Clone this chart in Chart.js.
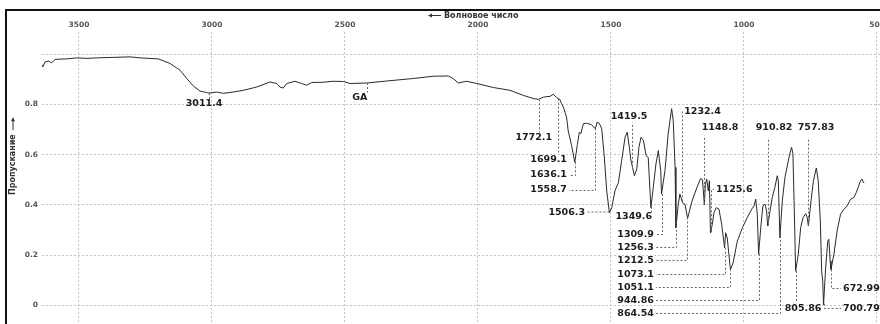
<!DOCTYPE html>
<html lang="ru">
<head>
<meta charset="utf-8">
<title>ИК-спектр</title>
<script src="https://cdn.jsdelivr.net/npm/chart.js@4.4.1/dist/chart.umd.min.js"></script>
<style>
  html, body { margin: 0; padding: 0; background: #fff; overflow: hidden; }
  #box { position: absolute; left: 0; top: 0; width: 900px; height: 334px; }
  #frame { position: absolute; left: 5px; top: 9px; width: 900px; height: 330px;
           border-top: 2px solid #111; border-left: 2px solid #111; pointer-events: none; }
</style>
</head>
<body>
<div id="box"><canvas id="spectrum"></canvas></div>
<div id="frame"></div>
<script>
// Spectrum: wavenumber (cm-1) and transmittance
const waveNumbers = [
  3643, 3636, 3628, 3615, 3603, 3590, 3571, 3546, 3509, 3470, 3433, 3371, 3308, 3271, 3202,
  3158, 3120, 3095, 3070, 3045, 3020, 3011, 2982, 2957, 2920, 2882, 2832, 2782, 2757, 2744,
  2732, 2719, 2688, 2663, 2644, 2625, 2582, 2544, 2506, 2481, 2418, 2343, 2243, 2168, 2112,
  2093, 2074, 2043, 1992, 1942, 1880, 1830, 1792, 1772, 1754, 1729, 1717, 1704, 1699, 1692,
  1686, 1679, 1673, 1667, 1661, 1648, 1636, 1627, 1619, 1613, 1604, 1592, 1573, 1559, 1552,
  1544, 1535, 1526, 1516, 1506, 1497, 1485, 1472, 1460, 1447, 1439, 1431, 1426, 1419, 1412,
  1403, 1395, 1387, 1378, 1368, 1360, 1350, 1341, 1331, 1322, 1313, 1310, 1297, 1285, 1272,
  1266, 1259, 1256, 1247, 1241, 1231, 1222, 1212, 1195, 1177, 1163, 1156, 1149, 1145, 1140,
  1134, 1130, 1126, 1119, 1113, 1104, 1094, 1084, 1073, 1069, 1063, 1051, 1041, 1025, 1006,
  988, 971, 962, 956, 950, 945, 937, 929, 921, 915, 911, 904, 894, 884, 875,
  871, 865, 856, 846, 837, 828, 821, 816, 809, 806, 796, 787, 778, 768, 762,
  758, 748, 739, 728, 721, 713, 708, 704, 701, 693, 685, 681, 676, 673, 662,
  650, 637, 624, 612, 599, 587, 578, 571, 562, 556, 552, 549
];
const transmittance = [
  0.965, 0.949, 0.968, 0.973, 0.965, 0.979, 0.980, 0.981, 0.985, 0.983, 0.985, 0.987, 0.989, 0.985, 0.981,
  0.963, 0.936, 0.903, 0.873, 0.853, 0.847, 0.845, 0.849, 0.844, 0.849, 0.856, 0.869, 0.889, 0.883, 0.869,
  0.865, 0.883, 0.892, 0.883, 0.876, 0.887, 0.888, 0.892, 0.891, 0.883, 0.885, 0.893, 0.903, 0.912, 0.913,
  0.903, 0.885, 0.892, 0.880, 0.867, 0.856, 0.836, 0.823, 0.820, 0.829, 0.832, 0.840, 0.827, 0.823, 0.819,
  0.803, 0.789, 0.769, 0.749, 0.696, 0.636, 0.569, 0.636, 0.689, 0.684, 0.723, 0.725, 0.719, 0.703, 0.729,
  0.725, 0.703, 0.603, 0.456, 0.369, 0.389, 0.456, 0.489, 0.576, 0.669, 0.689, 0.629, 0.583, 0.549, 0.516,
  0.543, 0.629, 0.669, 0.656, 0.596, 0.589, 0.389, 0.469, 0.563, 0.616, 0.536, 0.443, 0.536, 0.683, 0.783,
  0.736, 0.549, 0.309, 0.403, 0.443, 0.409, 0.403, 0.347, 0.416, 0.469, 0.505, 0.500, 0.400, 0.483, 0.503,
  0.456, 0.496, 0.289, 0.323, 0.369, 0.389, 0.383, 0.323, 0.229, 0.289, 0.269, 0.143, 0.169, 0.256, 0.309,
  0.349, 0.383, 0.396, 0.423, 0.363, 0.203, 0.309, 0.396, 0.403, 0.376, 0.316, 0.363, 0.429, 0.469, 0.516,
  0.496, 0.269, 0.416, 0.509, 0.556, 0.603, 0.629, 0.603, 0.296, 0.136, 0.203, 0.309, 0.349, 0.365, 0.349,
  0.316, 0.416, 0.496, 0.547, 0.496, 0.336, 0.136, 0.096, 0.003, 0.149, 0.256, 0.263, 0.176, 0.143, 0.203,
  0.296, 0.363, 0.383, 0.396, 0.423, 0.429, 0.449, 0.469, 0.496, 0.503, 0.490, 0.489
];

// Marked bands
const peakWn = [3011.4, 2417, 1772.1, 1699.1, 1636.1, 1558.7, 1506.3, 1419.5, 1349.6, 1309.9, 1256.3, 1212.5,
  1073.1, 1051.1, 944.86, 864.54, 1232.4, 1148.8, 1125.6, 910.82, 757.83, 805.86, 700.79, 672.99];
const peakText = ['3011.4', 'GA', '1772.1', '1699.1', '1636.1', '1558.7', '1506.3', '1419.5', '1349.6', '1309.9',
  '1256.3', '1212.5', '1073.1', '1051.1', '944.86', '864.54', '1232.4', '1148.8', '1125.6', '910.82', '757.83',
  '805.86', '700.79', '672.99'];

const xTicks = [3500, 3000, 2500, 2000, 1500, 1000, 500];
const yTicks = [0, 0.2, 0.4, 0.6, 0.8, 1.0];

// where each label sits (axis units) and how its dashed leader runs:
// up/down from the band to ey, then across to hx
const calloutLayout = [
  { lx: 3030, ly: 0.804, align: 'center', ey: 0.822 },
  { lx: 2444, ly: 0.829, align: 'center', ey: 0.850 },
  { lx: 1714, ly: 0.668, align: 'right', ey: 0.690 },
  { lx: 1658, ly: 0.580, align: 'right', ey: 0.607 },
  { lx: 1658, ly: 0.520, align: 'right', ey: 0.520, hx: 1658 },
  { lx: 1658, ly: 0.460, align: 'right', ey: 0.460, hx: 1658 },
  { lx: 1590, ly: 0.368, align: 'right', ey: null, hx: 1590 },
  { lx: 1432, ly: 0.752, align: 'center', ey: 0.728 },
  { lx: 1338, ly: 0.353, align: 'right', ey: 0.372 },
  { lx: 1331, ly: 0.284, align: 'right', ey: 0.284, hx: 1331 },
  { lx: 1331, ly: 0.232, align: 'right', ey: 0.232, hx: 1331 },
  { lx: 1331, ly: 0.180, align: 'right', ey: 0.180, hx: 1331 },
  { lx: 1331, ly: 0.124, align: 'right', ey: 0.124, hx: 1331 },
  { lx: 1331, ly: 0.072, align: 'right', ey: 0.072, hx: 1331 },
  { lx: 1331, ly: 0.020, align: 'right', ey: 0.020, hx: 1331 },
  { lx: 1331, ly: -0.032, align: 'right', ey: -0.032, hx: 1331 },
  { lx: 1232.4, ly: 0.773, align: 'left', ey: 0.782 },
  { lx: 1090, ly: 0.708, align: 'center', ey: 0.680 },
  { lx: 1113, ly: 0.463, align: 'left', ey: 0.463, hx: 1113 },
  { lx: 887, ly: 0.709, align: 'center', ey: 0.672 },
  { lx: 729, ly: 0.709, align: 'center', ey: 0.672 },
  { lx: 778, ly: -0.011, align: 'center', ey: 0.012 },
  { lx: 635, ly: -0.012, align: 'left', ey: -0.012, hx: 635 },
  { lx: 635, ly: 0.068, align: 'left', ey: 0.068, hx: 635 }
];

// transmittance on the curve at a given wavenumber (linear between points)
function curveAt(wn) {
  for (let i = 0; i < waveNumbers.length - 1; i++) {
    const a = waveNumbers[i], b = waveNumbers[i + 1];
    if (wn <= a && wn >= b) {
      const t = (a - wn) / (a - b);
      return transmittance[i] + t * (transmittance[i + 1] - transmittance[i]);
    }
  }
  return transmittance[transmittance.length - 1];
}

const labelFont = 'bold 9.5px "DejaVu Sans"';
const axisFont = 'bold 8px "DejaVu Sans"';

// dashed leaders + band numbers
const calloutPlugin = {
  id: 'callouts',
  afterDatasetsDraw(chart) {
    const { ctx, scales: { x, y } } = chart;
    ctx.save();
    ctx.lineWidth = 1;
    ctx.strokeStyle = '#666';
    ctx.setLineDash([2, 2]);
    peakWn.forEach((wn, i) => {
      const c = calloutLayout[i];
      const px = Math.round(x.getPixelForValue(wn)) + 0.5;
      const py = y.getPixelForValue(curveAt(wn));
      const ey = c.ey === null ? py : Math.round(y.getPixelForValue(c.ey)) + 0.5;
      ctx.beginPath();
      ctx.moveTo(px, py);
      ctx.lineTo(px, ey);
      if (c.hx !== undefined) ctx.lineTo(x.getPixelForValue(c.hx), ey);
      ctx.stroke();
    });
    ctx.setLineDash([]);
    ctx.font = labelFont;
    ctx.fillStyle = '#1c1c1c';
    ctx.textBaseline = 'middle';
    peakText.forEach((txt, i) => {
      const c = calloutLayout[i];
      let tx = x.getPixelForValue(c.lx);
      if (c.align === 'right') tx -= 2;
      if (c.align === 'left') tx += 2;
      ctx.textAlign = c.align;
      ctx.fillText(txt, tx, y.getPixelForValue(c.ly));
    });
    ctx.restore();
  }
};

// axis captions with arrows
const captionPlugin = {
  id: 'captions',
  afterDraw(chart) {
    const ctx = chart.ctx;
    ctx.save();
    ctx.fillStyle = '#333';
    ctx.strokeStyle = '#333';
    ctx.lineWidth = 1;
    ctx.font = axisFont;
    ctx.textBaseline = 'middle';

    // top: "← Волновое число"
    ctx.textAlign = 'left';
    ctx.fillText('Волновое число', 444, 15.5);
    ctx.beginPath();
    ctx.moveTo(429, 15.5); ctx.lineTo(441, 15.5);
    ctx.stroke();
    ctx.beginPath();
    ctx.moveTo(428, 15.5); ctx.lineTo(432, 13.5); ctx.lineTo(432, 17.5); ctx.closePath();
    ctx.fill();

    // left: "Пропускание →", reading upward
    ctx.translate(13, 195);
    ctx.rotate(-Math.PI / 2);
    ctx.fillText('Пропускание', 0, 0);
    const w = ctx.measureText('Пропускание').width;
    ctx.beginPath();
    ctx.moveTo(w + 4, 0); ctx.lineTo(w + 16, 0);
    ctx.stroke();
    ctx.beginPath();
    ctx.moveTo(w + 17, 0); ctx.lineTo(w + 13, -2); ctx.lineTo(w + 13, 2); ctx.closePath();
    ctx.fill();
    ctx.restore();
  }
};

const gridStyle = { color: '#c4c4c4', lineWidth: 1, drawTicks: false };

new Chart(document.getElementById('spectrum'), {
  type: 'line',
  data: {
    datasets: [{
      data: waveNumbers.map((wn, i) => ({ x: wn, y: transmittance[i] })),
      borderColor: '#2a2a2a',
      borderWidth: 1,
      pointRadius: 0,
      tension: 0,
      fill: false
    }]
  },
  options: {
    responsive: true,
    maintainAspectRatio: false,
    animation: false,
    layout: { padding: 0 },
    plugins: { legend: { display: false }, tooltip: { enabled: false } },
    scales: {
      x: {
        type: 'linear',
        position: 'top',
        reverse: true,
        min: 413.5,
        max: 3639,
        afterBuildTicks: s => { s.ticks = xTicks.map(v => ({ value: v })); },
        afterFit: s => { s.height = 32; },
        grid: gridStyle,
        border: { display: false, dash: [2, 2] },
        ticks: {
          padding: 2,
          maxRotation: 0,
          autoSkip: false,
          color: '#555',
          font: { family: 'DejaVu Sans', size: 7.5, weight: 'bold' },
          callback: v => String(v)
        }
      },
      y: {
        min: -0.08,
        max: 1.088,
        afterBuildTicks: s => { s.ticks = yTicks.map(v => ({ value: v })); },
        afterFit: s => { s.width = 42; },
        grid: gridStyle,
        border: { display: false, dash: [2, 2] },
        ticks: {
          padding: 4,
          color: '#555',
          font: { family: 'DejaVu Sans', size: 7.5, weight: 'bold' },
          callback: v => (v >= 1 ? '' : v === 0 ? '0' : v.toFixed(1))
        }
      }
    }
  },
  plugins: [calloutPlugin, captionPlugin]
});
</script>
</body>
</html>
